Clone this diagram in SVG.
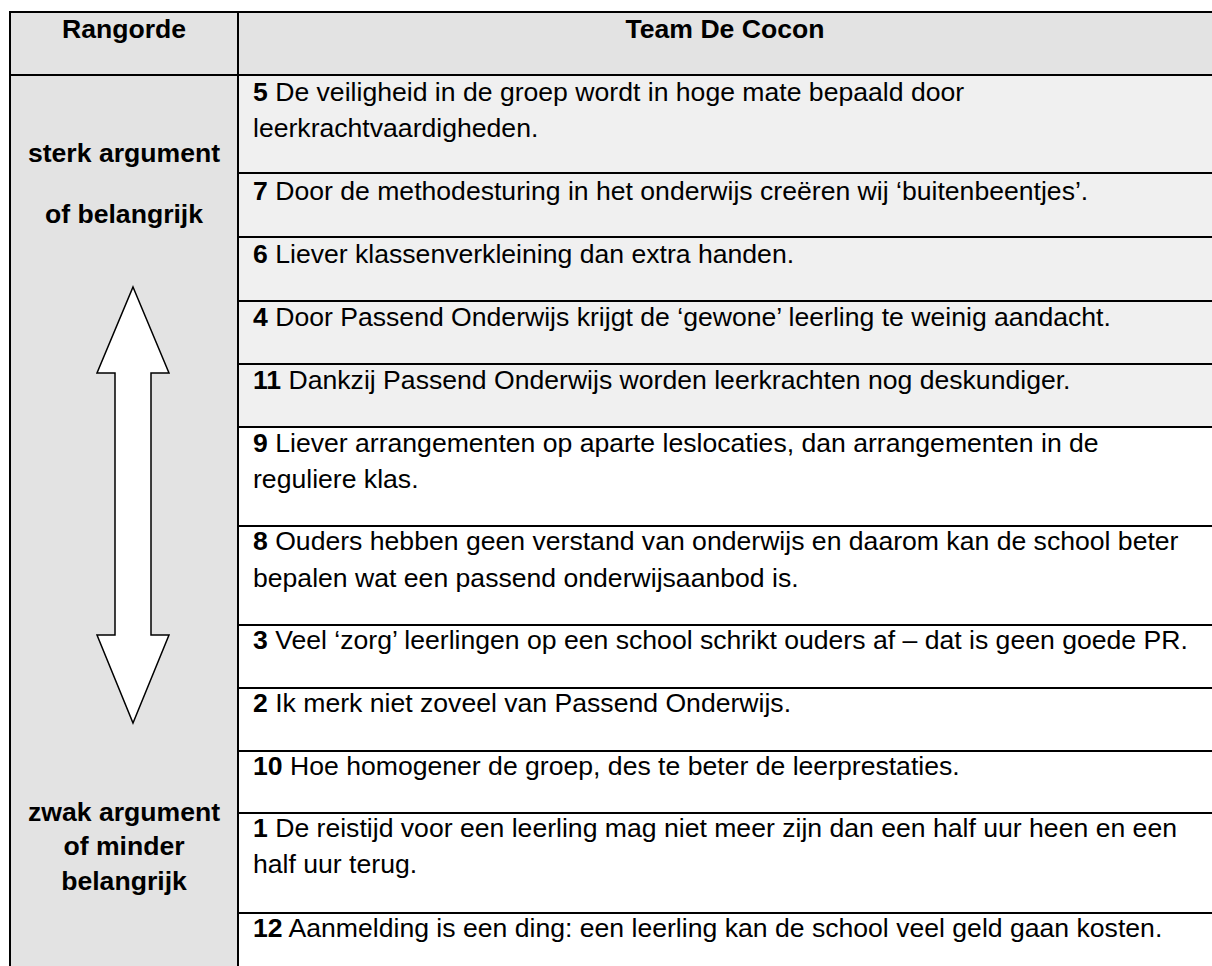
<svg xmlns="http://www.w3.org/2000/svg" width="1212" height="966" viewBox="0 0 1212 966">
  <style>
    .t { font-family: "Liberation Sans", Arial, sans-serif; font-size: 26.6px; fill: #000; }
    .b { font-weight: bold; }
    .hdr { fill: #e3e3e3; }
    .g { fill: #f0f0f0; }
    .w { fill: #ffffff; }
    .ln { stroke: #000; stroke-width: 2; fill: none; }
    .arrow { fill: #fff; stroke: #000; stroke-width: 1.5; stroke-linejoin: miter; }
  </style>
  <rect x="0" y="0" width="1212" height="966" fill="#fff"/>

  <!-- backgrounds -->
  <g id="backgrounds">
    <rect class="hdr" x="10" y="12" width="1202" height="63"/>
    <rect class="hdr" x="10" y="75" width="228" height="891"/>
    <rect class="g" x="238" y="75" width="974" height="352"/>
    <rect class="w" x="238" y="427" width="974" height="539"/>
  </g>

  <!-- grid lines -->
  <g id="grid" class="ln">
    <line x1="10" y1="12" x2="1214" y2="12"/>
    <line x1="10" y1="75" x2="1214" y2="75"/>
    <line x1="10" y1="11" x2="10" y2="966"/>
    <line x1="238" y1="11" x2="238" y2="966"/>
    <line x1="238" y1="173" x2="1214" y2="173"/>
    <line x1="238" y1="237" x2="1214" y2="237"/>
    <line x1="238" y1="301" x2="1214" y2="301"/>
    <line x1="238" y1="364" x2="1214" y2="364"/>
    <line x1="238" y1="427" x2="1214" y2="427"/>
    <line x1="238" y1="526" x2="1214" y2="526"/>
    <line x1="238" y1="625" x2="1214" y2="625"/>
    <line x1="238" y1="688" x2="1214" y2="688"/>
    <line x1="238" y1="751" x2="1214" y2="751"/>
    <line x1="238" y1="813" x2="1214" y2="813"/>
    <line x1="238" y1="913" x2="1214" y2="913"/>
  </g>

  <!-- headers -->
  <g id="header-rangorde">
    <text class="t b" x="124" y="38" text-anchor="middle">Rangorde</text>
  </g>
  <g id="header-team">
    <text class="t b" x="725" y="38" text-anchor="middle">Team De Cocon</text>
  </g>

  <!-- left labels -->
  <g id="label-sterk">
    <text class="t b" x="124" y="162" text-anchor="middle">sterk argument</text>
    <text class="t b" x="124" y="223" text-anchor="middle">of belangrijk</text>
  </g>
  <g id="label-zwak">
    <text class="t b" x="124" y="821" text-anchor="middle">zwak argument</text>
    <text class="t b" x="124" y="855" text-anchor="middle">of minder</text>
    <text class="t b" x="124" y="890" text-anchor="middle">belangrijk</text>
  </g>

  <!-- double arrow -->
  <g id="arrow">
    <polygon class="arrow" points="133,287 169,373 151,373 151,635 169,635 133,723 97,635 115,635 115,373 97,373"/>
  </g>

  <!-- rows -->
  <g id="row-5">
    <text class="t" x="253" y="101"><tspan class="b">5</tspan> De veiligheid in de groep wordt in hoge mate bepaald door</text>
    <text class="t" x="253" y="137">leerkrachtvaardigheden.</text>
  </g>
  <g id="row-7">
    <text class="t" x="253" y="200"><tspan class="b">7</tspan> Door de methodesturing in het onderwijs creëren wij ‘buitenbeentjes’.</text>
  </g>
  <g id="row-6">
    <text class="t" x="253" y="263"><tspan class="b">6</tspan> Liever klassenverkleining dan extra handen.</text>
  </g>
  <g id="row-4">
    <text class="t" x="253" y="326"><tspan class="b">4</tspan> Door Passend Onderwijs krijgt de ‘gewone’ leerling te weinig aandacht.</text>
  </g>
  <g id="row-11">
    <text class="t" x="253" y="389"><tspan class="b">11</tspan> Dankzij Passend Onderwijs worden leerkrachten nog deskundiger.</text>
  </g>
  <g id="row-9">
    <text class="t" x="253" y="452"><tspan class="b">9</tspan> Liever arrangementen op aparte leslocaties, dan arrangementen in de</text>
    <text class="t" x="253" y="488">reguliere klas.</text>
  </g>
  <g id="row-8">
    <text class="t" x="253" y="550"><tspan class="b">8</tspan> Ouders hebben geen verstand van onderwijs en daarom kan de school beter</text>
    <text class="t" x="253" y="587">bepalen wat een passend onderwijsaanbod is.</text>
  </g>
  <g id="row-3">
    <text class="t" x="253" y="649"><tspan class="b">3</tspan> Veel ‘zorg’ leerlingen op een school schrikt ouders af – dat is geen goede PR.</text>
  </g>
  <g id="row-2">
    <text class="t" x="253" y="712"><tspan class="b">2</tspan> Ik merk niet zoveel van Passend Onderwijs.</text>
  </g>
  <g id="row-10">
    <text class="t" x="253" y="775"><tspan class="b">10</tspan> Hoe homogener de groep, des te beter de leerprestaties.</text>
  </g>
  <g id="row-1">
    <text class="t" x="253" y="837"><tspan class="b">1</tspan> De reistijd voor een leerling mag niet meer zijn dan een half uur heen en een</text>
    <text class="t" x="253" y="873">half uur terug.</text>
  </g>
  <g id="row-12">
    <text class="t" x="253" y="937"><tspan class="b">12</tspan> Aanmelding is een ding: een leerling kan de school veel geld gaan kosten.</text>
  </g>
</svg>
